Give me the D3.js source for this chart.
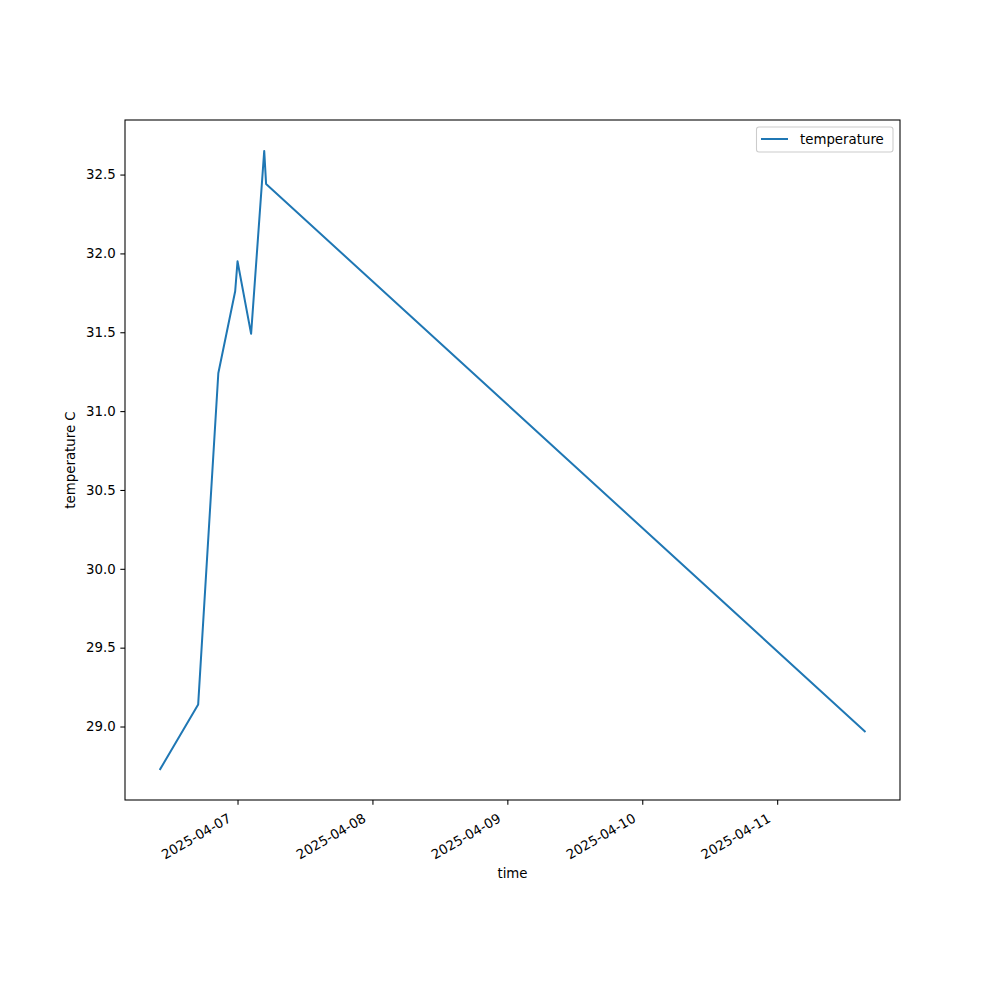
<html>
<head>
<title>temperature</title>
<script type="text/javascript" src="https://cdnjs.cloudflare.com/ajax/libs/d3/7.8.5/d3.min.js"></script>
<style>
	body { margin:0px; padding:0px; background:white; }
	text { font-family: "DejaVu Sans", sans-serif; font-size:13.33px; fill:#000; }
</style>
</head>
<body>
<svg id="chart" width="1000" height="1000"></svg>
<script type="text/javascript">

// readings
var times = [
	'2025-04-06T10:15', '2025-04-06T17:00', '2025-04-06T20:35', '2025-04-06T23:35',
	'2025-04-07T00:00', '2025-04-07T02:25', '2025-04-07T04:45', '2025-04-07T05:05',
	'2025-04-11T15:35'
];
var temps = [28.73, 29.14, 31.24, 31.76, 31.95, 31.49, 32.65, 32.44, 28.97];
var dayTicks = ['2025-04-07', '2025-04-08', '2025-04-09', '2025-04-10', '2025-04-11'];
var tempTicks = [29.0, 29.5, 30.0, 30.5, 31.0, 31.5, 32.0, 32.5];

// axes box (window.top is reserved, so own names)
var axL = 125, axR = 900, axT = 120, axB = 800;
var color = '#1f77b4';

var parseT = d3.utcParse('%Y-%m-%dT%H:%M');
var parseD = d3.utcParse('%Y-%m-%d');
var fmtD = d3.utcFormat('%Y-%m-%d');

var data = [];
for (var i=0; i<times.length; i++) { data.push({t: parseT(times[i]), v: temps[i]}); }

// 5% margins like matplotlib
var tExt = d3.extent(data, function(d) {return +d.t});
var vExt = d3.extent(data, function(d) {return d.v});
var tPad = (tExt[1]-tExt[0])*0.05, vPad = (vExt[1]-vExt[0])*0.05;

var x = d3.scaleUtc().domain([new Date(tExt[0]-tPad), new Date(tExt[1]+tPad)]).range([axL, axR]);
var y = d3.scaleLinear().domain([vExt[0]-vPad, vExt[1]+vPad]).range([axB, axT]);

var svg = d3.select('#chart');

// x axis
var xAxis = d3.axisBottom(x)
	.tickValues(dayTicks.map(function(d) {return parseD(d)}))
	.tickFormat(fmtD)
	.tickSizeInner(4.67).tickSizeOuter(0).tickPadding(4.67);
var gx = svg.append('g').attr('transform', 'translate(0,' + axB + ')').call(xAxis);
gx.select('.domain').remove();
gx.selectAll('.tick line').attr('stroke', '#000').attr('stroke-width', 1.07);
gx.selectAll('.tick text')
	.attr('font-size', null).attr('font-family', null)
	.attr('text-anchor', 'end')
	.attr('y', 0).attr('dy', null)
	.attr('transform', 'translate(-6,21) rotate(-30)');

// y axis
var yAxis = d3.axisLeft(y)
	.tickValues(tempTicks)
	.tickFormat(d3.format('.1f'))
	.tickSizeInner(4.67).tickSizeOuter(0).tickPadding(4.67);
var gy = svg.append('g').attr('transform', 'translate(' + axL + ',0)').call(yAxis);
gy.select('.domain').remove();
gy.selectAll('.tick line').attr('stroke', '#000').attr('stroke-width', 1.07);
gy.selectAll('.tick text').attr('font-size', null).attr('font-family', null);

// line
var line = d3.line()
	.x(function(d) {return x(d.t)})
	.y(function(d) {return y(d.v)});
svg.append('path')
	.datum(data)
	.attr('d', line)
	.attr('fill', 'none')
	.attr('stroke', color)
	.attr('stroke-width', 2)
	.attr('stroke-linejoin', 'round')
	.attr('stroke-linecap', 'square');

// frame
svg.append('rect')
	.attr('x', axL).attr('y', axT)
	.attr('width', axR-axL).attr('height', axB-axT)
	.attr('fill', 'none').attr('stroke', '#000').attr('stroke-width', 1.07);

// labels
svg.append('text').attr('x', (axL+axR)/2).attr('y', 878).attr('text-anchor', 'middle').text('time');
svg.append('text')
	.attr('transform', 'translate(75,' + ((axT+axB)/2) + ') rotate(-90)')
	.attr('text-anchor', 'middle').text('temperature C');

// legend
var lg = svg.append('g');
lg.append('rect')
	.attr('x', 756.5).attr('y', 127).attr('width', 136.5).attr('height', 25)
	.attr('rx', 2.5).attr('ry', 2.5)
	.attr('fill', 'white').attr('fill-opacity', 0.8)
	.attr('stroke', '#cccccc').attr('stroke-width', 1.07);
lg.append('line')
	.attr('x1', 761).attr('x2', 788).attr('y1', 139).attr('y2', 139)
	.attr('stroke', color).attr('stroke-width', 2);
lg.append('text').attr('x', 800).attr('y', 143.5).text('temperature');

</script>
</body>
</html>
